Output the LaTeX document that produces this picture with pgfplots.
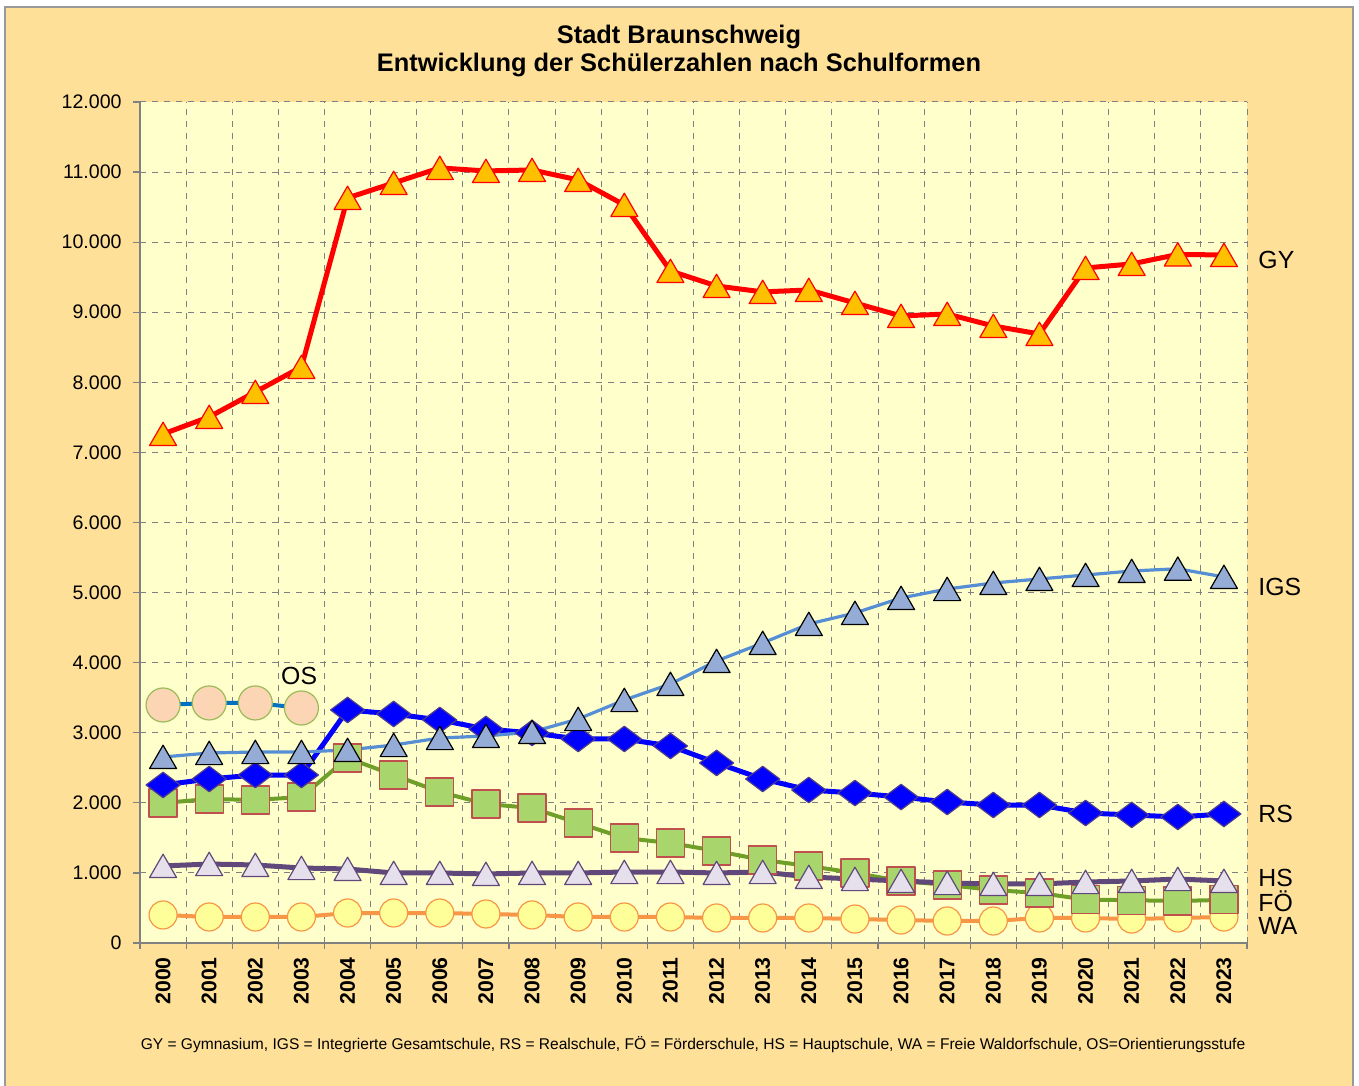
\documentclass[border=0pt]{standalone}
\usepackage{fontspec}
\setmainfont{Liberation Sans}
\usepackage{pgfplots}
\pgfplotsset{compat=1.18}
\definecolor{chartbg}{RGB}{255,224,153}
\definecolor{plotbg}{RGB}{255,255,204}
\definecolor{gyfill}{RGB}{255,192,0}
\definecolor{igsline}{RGB}{85,142,213}
\definecolor{igsfill}{RGB}{149,172,214}
\definecolor{rsedge}{RGB}{80,60,140}
\definecolor{foline}{RGB}{110,160,40}
\definecolor{fofill}{RGB}{168,214,108}
\definecolor{foedge}{RGB}{192,80,77}
\definecolor{hsline}{RGB}{96,73,122}
\definecolor{hsfill}{RGB}{230,224,236}
\definecolor{waline}{RGB}{247,150,70}
\definecolor{wafill}{RGB}{255,255,153}
\definecolor{osline}{RGB}{0,112,192}
\definecolor{osfill}{RGB}{252,213,180}
\definecolor{osedge}{RGB}{155,187,89}
\begin{document}
\begin{tikzpicture}
\useasboundingbox (0,0) rectangle (679.5pt,543pt);
\fill[white] (0,0) rectangle (679.5pt,543pt);
\filldraw[fill=chartbg, draw=gray!80, line width=0.6pt] (2.5pt,-2pt) rectangle (676.5pt,539.5pt);
\node[font=\bfseries\fontsize{12.7}{14}\selectfont] at (339.5pt,524.5pt) {Stadt Braunschweig};
\node[font=\bfseries\fontsize{12.7}{14}\selectfont] at (339.5pt,510.5pt) {Entwicklung der Schülerzahlen nach Schulformen};
\node[font=\fontsize{7.78}{9}\selectfont] at (346.5pt,20.5pt) {GY = Gymnasium, IGS = Integrierte Gesamtschule, RS = Realschule, FÖ = Förderschule, HS = Hauptschule, WA = Freie Waldorfschule, OS=Orientierungsstufe};
\begin{axis}[
  at={(70pt,71.5pt)}, anchor=south west,
  scale only axis, width=553.5pt, height=420.5pt,
  xmin=1999.5, xmax=2023.5, ymin=0, ymax=12000,
  scaled y ticks=false,
  axis background/.style={fill=plotbg},
  axis x line*=bottom, axis y line*=left,
  axis line style={gray, line width=0.8pt, -},
  xtick={2000,...,2023},
  xticklabels={2000,2001,2002,2003,2004,2005,2006,2007,2008,2009,2010,2011,2012,2013,2014,2015,2016,2017,2018,2019,2020,2021,2022,2023},
  minor xtick={1999.5,2000.5,...,2023.5},
  ytick={0,1000,...,12000},
  yticklabels={0,1.000,2.000,3.000,4.000,5.000,6.000,7.000,8.000,9.000,10.000,11.000,12.000},
  tick align=outside,
  major tick length=3.5pt, minor tick length=3pt,
  major x tick style={draw=none},
  tick style={gray, line width=0.6pt},
  ymajorgrids, xminorgrids,
  grid style={gray, dashed, line width=0.5pt},
  minor grid style={gray, dashed, line width=0.5pt},
  xticklabel style={rotate=90, anchor=east, inner sep=0pt, font=\bfseries\fontsize{10.6}{12}\selectfont},
  xticklabel shift=3.5pt,
  yticklabel style={anchor=east, inner sep=0pt, font=\fontsize{9.8}{12}\selectfont},
  yticklabel shift=5.5pt,
  clip=false,
  every axis plot/.append style={line join=round},
]
% WA
\addplot[waline, line width=2pt, mark=*, mark size=7pt, mark options={fill=wafill, draw=waline, line width=0.6pt}] coordinates {
(2000,400)(2001,371)(2002,371)(2003,371)(2004,428)(2005,428)(2006,428)(2007,414)(2008,400)(2009,371)(2010,371)(2011,371)(2012,357)(2013,357)(2014,357)(2015,342)(2016,328)(2017,314)(2018,314)(2019,357)(2020,357)(2021,342)(2022,357)(2023,371)};
% FOE
\addplot[foline, line width=2pt, mark=square*, mark size=7pt, mark options={fill=fofill, draw=foedge, line width=0.6pt}] coordinates {
(2000,1998)(2001,2055)(2002,2041)(2003,2083)(2004,2640)(2005,2397)(2006,2155)(2007,1984)(2008,1926)(2009,1712)(2010,1498)(2011,1427)(2012,1313)(2013,1184)(2014,1099)(2015,999)(2016,885)(2017,828)(2018,756)(2019,713)(2020,620)(2021,610)(2022,600)(2023,615)};
% HS
\addplot[hsline, line width=2.5pt, mark=triangle*, mark size=7.8pt, mark options={fill=hsfill, draw=hsline, line width=0.6pt, yshift=-1.9pt}] coordinates {
(2000,1099)(2001,1127)(2002,1113)(2003,1070)(2004,1056)(2005,999)(2006,999)(2007,985)(2008,999)(2009,999)(2010,1013)(2011,1013)(2012,999)(2013,1013)(2014,942)(2015,913)(2016,885)(2017,856)(2018,842)(2019,842)(2020,870)(2021,885)(2022,913)(2023,885)};
% RS
\addplot[blue, line width=2.5pt, mark=diamond*, mark size=8.5pt, mark options={fill=blue, draw=rsedge, line width=0.6pt, rotate=90}] coordinates {
(2000,2255)(2001,2340)(2002,2397)(2003,2397)(2004,3325)(2005,3268)(2006,3182)(2007,3054)(2008,2997)(2009,2911)(2010,2911)(2011,2811)(2012,2569)(2013,2340)(2014,2183)(2015,2140)(2016,2083)(2017,2012)(2018,1969)(2019,1969)(2020,1855)(2021,1827)(2022,1798)(2023,1841)};
% IGS
\addplot[igsline, line width=1.6pt, mark=triangle*, mark size=7.8pt, mark options={fill=igsfill, draw=black, line width=0.6pt, yshift=-1.9pt}] coordinates {
(2000,2654)(2001,2711)(2002,2725)(2003,2725)(2004,2754)(2005,2825)(2006,2925)(2007,2954)(2008,3011)(2009,3196)(2010,3467)(2011,3696)(2012,4024)(2013,4281)(2014,4552)(2015,4709)(2016,4923)(2017,5051)(2018,5137)(2019,5194)(2020,5251)(2021,5308)(2022,5340)(2023,5223)};
% GY
\addplot[red, line width=2.5pt, mark=triangle*, mark size=7.8pt, mark options={fill=gyfill, draw=red, line width=0.6pt, yshift=-1.9pt}] coordinates {
(2000,7263)(2001,7506)(2002,7862)(2003,8219)(2004,10631)(2005,10845)(2006,11059)(2007,11016)(2008,11030)(2009,10888)(2010,10531)(2011,9589)(2012,9375)(2013,9290)(2014,9318)(2015,9132)(2016,8947)(2017,8975)(2018,8804)(2019,8690)(2020,9632)(2021,9689)(2022,9825)(2023,9817)};
% OS
\addplot[osline, line width=2pt, mark=*, mark size=8.5pt, mark options={fill=osfill, draw=osedge, line width=0.6pt}] coordinates {
(2000,3396)(2001,3425)(2002,3425)(2003,3353)};
\begin{scope}[every node/.style={anchor=west, inner sep=0pt, font=\fontsize{12.4}{14}\selectfont}]
\node at (axis cs:2023.74,9746) {GY};
\node at (axis cs:2023.74,5080) {IGS};
\node at (axis cs:2023.74,1841) {RS};
\node at (axis cs:2023.74,928) {HS};
\node at (axis cs:2023.74,599) {FÖ};
\node at (axis cs:2023.74,243) {WA};
\node[anchor=center] at (axis cs:2002.95,3810) {OS};
\end{scope}
\end{axis}
\end{tikzpicture}
\end{document}
